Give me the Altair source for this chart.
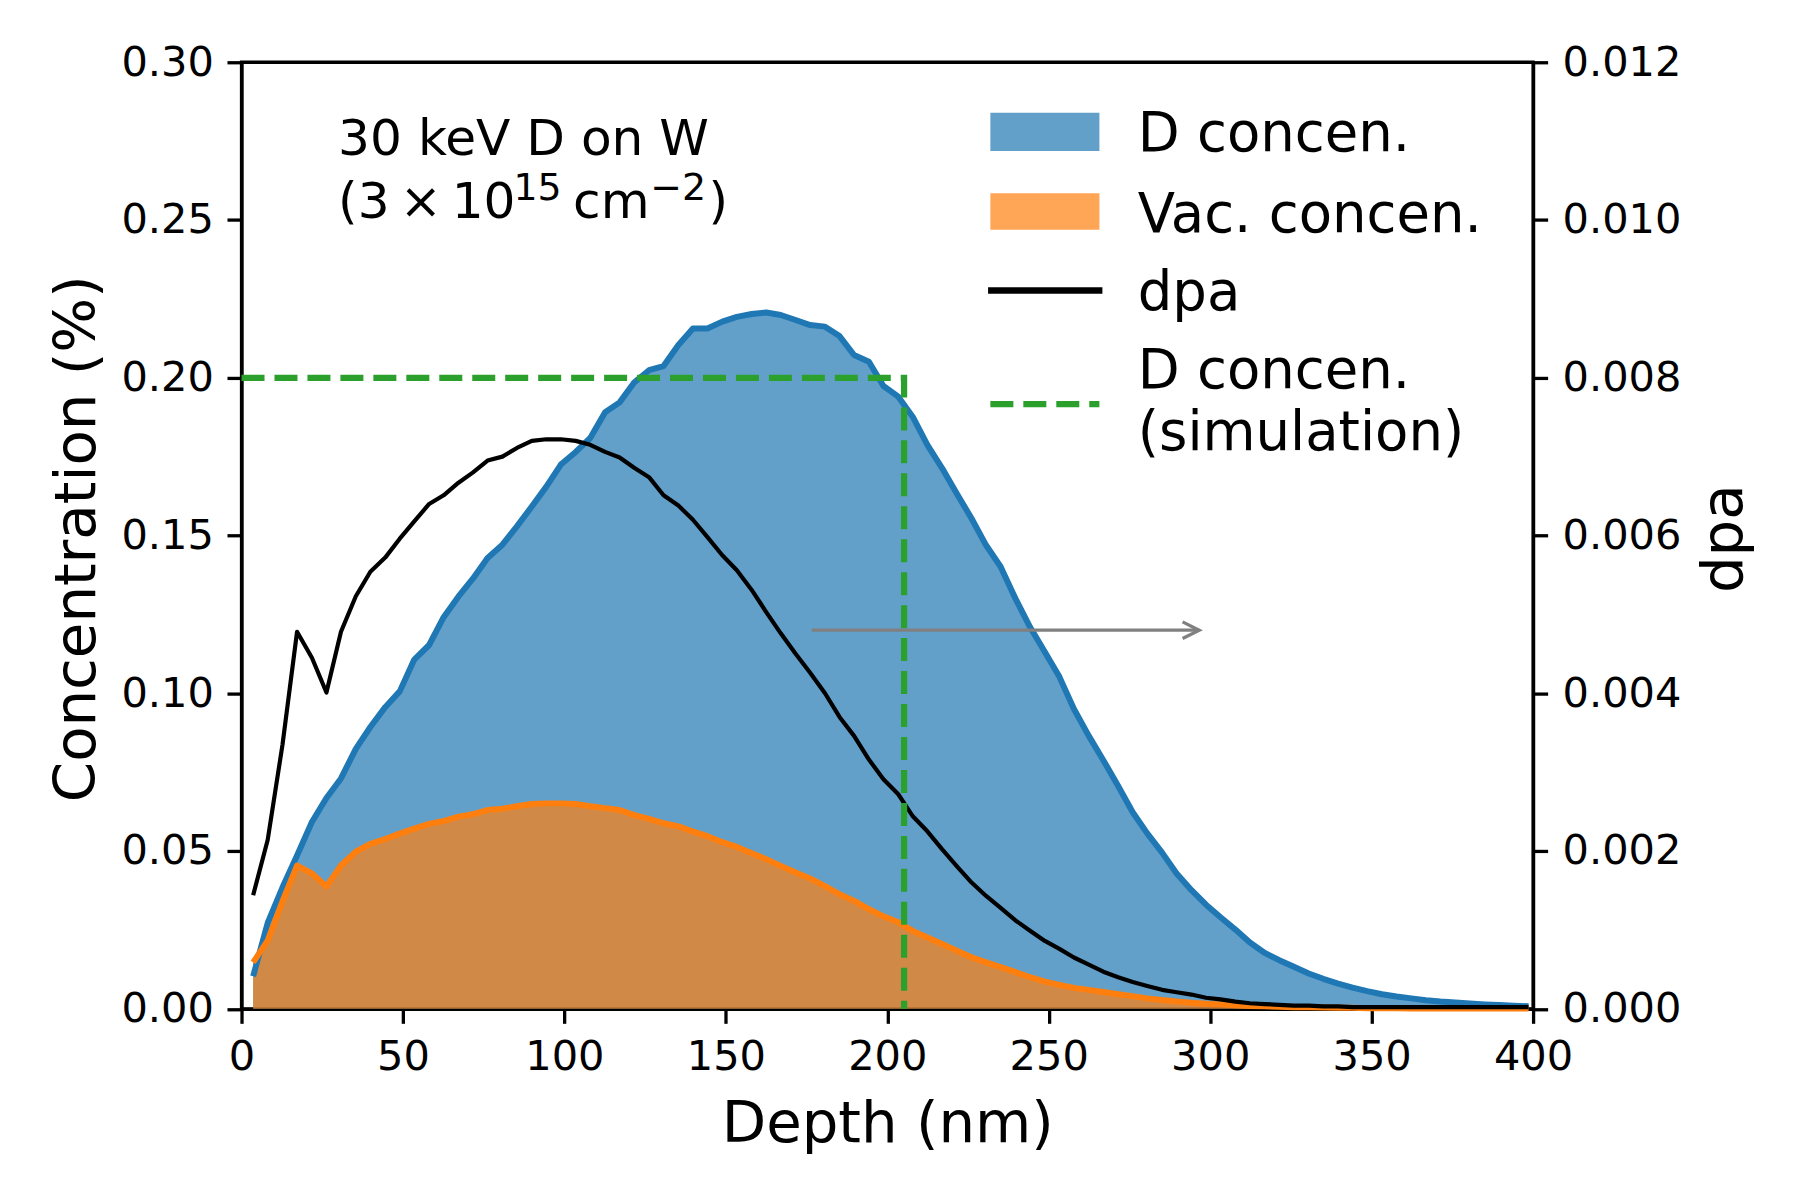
import altair as alt
import pandas as pd

# ---------------- data ----------------
depth = [3.6, 8.1, 12.7, 17.2, 21.8, 26.3, 30.8, 35.4, 39.9, 44.5,
         49.0, 53.5, 58.1, 62.6, 67.2, 71.7, 76.2, 80.8, 85.3, 89.9,
         94.4, 98.9, 103.5, 108.0, 112.6, 117.1, 121.6, 126.2, 130.7, 135.3,
         139.8, 144.3, 148.9, 153.4, 158.0, 162.5, 167.0, 171.6, 176.1, 180.7,
         185.2, 189.7, 194.3, 198.8, 203.4, 207.9, 212.4, 217.0, 221.5, 226.1,
         230.6, 235.1, 239.7, 244.2, 248.8, 253.3, 257.8, 262.4, 266.9, 271.5,
         276.0, 280.5, 285.1, 289.6, 294.2, 298.7, 303.2, 307.8, 312.3, 316.9,
         321.4, 325.9, 330.5, 335.0, 339.6, 344.1, 348.6, 353.2, 357.7, 362.3,
         366.8, 371.3, 375.9, 380.4, 385.0, 389.5, 394.0, 398.6]

d_conc = [0.0103, 0.0272, 0.0385, 0.0486, 0.0592, 0.0668, 0.0730, 0.0824, 0.0893, 0.0956,
          0.1006, 0.1107, 0.1153, 0.1241, 0.1307, 0.1364, 0.1429, 0.1471, 0.1529, 0.1592,
          0.1655, 0.1725, 0.1765, 0.1809, 0.1891, 0.1922, 0.1985, 0.2024, 0.2037, 0.2104,
          0.2156, 0.2156, 0.2178, 0.2193, 0.2202, 0.2207, 0.2199, 0.2183, 0.2167, 0.2162,
          0.2132, 0.2072, 0.2051, 0.1974, 0.1940, 0.1876, 0.1787, 0.1713, 0.1633, 0.1554,
          0.1469, 0.1401, 0.1300, 0.1210, 0.1131, 0.1052, 0.0950, 0.0865, 0.0788, 0.0706,
          0.0623, 0.0556, 0.0495, 0.0429, 0.0376, 0.0330, 0.0290, 0.0251, 0.0210, 0.0177,
          0.0154, 0.0133, 0.0112, 0.0095, 0.0080, 0.0067, 0.0056, 0.0046, 0.0039, 0.0033,
          0.0027, 0.0023, 0.0020, 0.0017, 0.0014, 0.0012, 0.0010, 0.0008]

vac_conc = [0.0147, 0.0216, 0.0341, 0.0454, 0.0429, 0.0388, 0.0454, 0.0498, 0.0523, 0.0538,
            0.0555, 0.0571, 0.0586, 0.0595, 0.0609, 0.0617, 0.0630, 0.0634, 0.0642, 0.0649,
            0.0651, 0.0651, 0.0649, 0.0642, 0.0636, 0.0630, 0.0614, 0.0602, 0.0588, 0.0578,
            0.0562, 0.0547, 0.0528, 0.0513, 0.0493, 0.0474, 0.0453, 0.0432, 0.0413, 0.0389,
            0.0363, 0.0342, 0.0316, 0.0293, 0.0274, 0.0247, 0.0226, 0.0205, 0.0184, 0.0163,
            0.0147, 0.0132, 0.0116, 0.0100, 0.0086, 0.0076, 0.0066, 0.0060, 0.0053, 0.0046,
            0.0040, 0.0033, 0.0028, 0.0023, 0.0019, 0.0016, 0.0014, 0.0011, 0.0009, 0.0008,
            0.0006, 0.0005, 0.0005, 0.0004, 0.0003, 0.0003, 0.0002, 0.0002, 0.0002, 0.0001,
            0.0001, 0.0001, 0.0001, 0.0001, 0.0001, 0.0001, 0.0001, 0.0001]

dpa = [0.00144, 0.00214, 0.00335, 0.00478, 0.00445, 0.00401, 0.00478, 0.00523, 0.00554, 0.00572,
       0.00596, 0.00618, 0.00640, 0.00651, 0.00667, 0.00680, 0.00695, 0.00700, 0.00711, 0.00720,
       0.00722, 0.00722, 0.00720, 0.00715, 0.00706, 0.00699, 0.00686, 0.00674, 0.00651, 0.00638,
       0.00620, 0.00598, 0.00575, 0.00556, 0.00531, 0.00503, 0.00476, 0.00450, 0.00426, 0.00400,
       0.00370, 0.00346, 0.00316, 0.00291, 0.00272, 0.00244, 0.00225, 0.00202, 0.00181, 0.00160,
       0.00143, 0.00128, 0.00112, 0.00099, 0.00086, 0.00076, 0.00065, 0.00056, 0.00047, 0.00040,
       0.00034, 0.00029, 0.00024, 0.00021, 0.00018, 0.00014, 0.00012, 0.00009, 0.00007, 0.00006,
       0.00005, 0.00004, 0.00004, 0.00003, 0.00003, 0.00002, 0.00002, 0.00002, 0.00002, 0.00002,
       0.00002, 0.00002, 0.00002, 0.00002, 0.00002, 0.00002, 0.00002, 0.00002]

sim_x = [0.0, 205.2, 205.2]
sim_y = [0.20, 0.20, 0.0]
arrow_x = [176.6, 296.6]
arrow_y = [0.12, 0.12]

x_ticks = [0, 50, 100, 150, 200, 250, 300, 350, 400]
y_ticks = [0.0, 0.05, 0.10, 0.15, 0.20, 0.25, 0.30]
dpa_ticks = [0.0, 0.002, 0.004, 0.006, 0.008, 0.010, 0.012]

legend_labels = ["D concen.", "Vac. concen.", "dpa", "D concen.", "(simulation)"]
note_line1 = "30 keV D on W"
note_parts = ["(3\u2009\u00d7\u200910", "15", "cm", "\u22122", ")"]

# ---------------- tables ----------------
df = pd.DataFrame({"depth": depth, "d": d_conc, "vac": vac_conc, "dpa": dpa})
df_sim = pd.DataFrame({"depth": sim_x, "y": sim_y, "k": list(range(len(sim_x)))})
df_arrow = pd.DataFrame({"depth": arrow_x, "y": arrow_y})
df_head = df_arrow.iloc[[1]]

FONT = "DejaVu Sans"
W, H = 1297, 950.5
BLUE, ORANGE, GREEN = "#1f77b4", "#ff7f0e", "#2ca02c"

xscale = alt.Scale(domain=[0, 400], nice=False, zero=False)
yscale = alt.Scale(domain=[0, 0.30], nice=False, zero=False)
dscale = alt.Scale(domain=[0, 0.012], nice=False, zero=False)

xaxis = alt.Axis(values=x_ticks, format="d", title="Depth (nm)", labelFlush=False,
                 labelOverlap=False, labelBaseline="alphabetic", labelPadding=46.8,
                 titleX=W / 2, titleY=133, titleBaseline="alphabetic",
                 titleAlign="center", titleAngle=0)
yaxis = alt.Axis(values=y_ticks, format=".2f", title="Concentration (%)", orient="left",
                 labelPadding=13.7, labelOverlap=False, titleAngle=270, titleX=-147.7,
                 titleY=478, titleBaseline="alphabetic", titleAlign="center")
daxis = alt.Axis(values=dpa_ticks, format=".3f", title="dpa", orient="right",
                 labelPadding=14.5, labelOverlap=False, titleAngle=270, titleX=209.5,
                 titleY=478, titleBaseline="alphabetic", titleAlign="center")

X = alt.X("depth:Q", scale=xscale, axis=xaxis)

base = alt.Chart(df)
blue_fill = base.mark_area(fill=BLUE, fillOpacity=0.7).encode(
    x=X, y=alt.Y("d:Q", scale=yscale, axis=yaxis))
orange_fill = base.mark_area(fill=ORANGE, fillOpacity=0.7).encode(
    x=X, y=alt.Y("vac:Q", scale=yscale, axis=yaxis))
blue_line = base.mark_line(color=BLUE, strokeWidth=6, strokeJoin="round").encode(
    x=X, y=alt.Y("d:Q", scale=yscale, axis=yaxis))
orange_line = base.mark_line(color=ORANGE, strokeWidth=6, strokeJoin="round").encode(
    x=X, y=alt.Y("vac:Q", scale=yscale, axis=yaxis))
conc_layer = alt.layer(blue_fill, orange_fill, blue_line, orange_line)

dpa_line = base.mark_line(color="black", strokeWidth=4.2, strokeJoin="round").encode(
    x=X, y=alt.Y("dpa:Q", scale=dscale, axis=daxis))

sim_line = alt.Chart(df_sim).mark_line(color=GREEN, strokeWidth=6.25,
                                       strokeDash=[23.1, 10], strokeCap="butt").encode(
    x=X, y=alt.Y("y:Q", scale=yscale, axis=None), order="k:O")
arrow_line = alt.Chart(df_arrow).mark_line(color="gray", strokeWidth=3.3).encode(
    x=X, y=alt.Y("y:Q", scale=yscale, axis=None))
arrow_head = alt.Chart(df_head).mark_point(
    shape="M -2 -1 L 0 0 L -2 1", size=279, filled=False, stroke="gray",
    strokeWidth=3.3, opacity=1).encode(
    x=X, y=alt.Y("y:Q", scale=yscale, axis=None))


def text_mark(label, x, y, size):
    return alt.Chart(pd.DataFrame({"t": [label]})).mark_text(
        align="left", baseline="alphabetic", font=FONT, fontSize=size,
        color="black").encode(x=alt.value(x), y=alt.value(y), text="t:N")


def patch(color, y0, y1):
    return alt.Chart(pd.DataFrame({"k": [0]})).mark_rect(
        fill=color, fillOpacity=0.7).encode(
        x=alt.value(752), x2=alt.value(861.5), y=alt.value(y0), y2=alt.value(y1))


leg_black = alt.Chart(pd.DataFrame({"k": [0]})).mark_rule(
    color="black", strokeWidth=6.7, strokeCap="butt").encode(
    x=alt.value(749.7), x2=alt.value(864.5), y=alt.value(229.2))
leg_green = alt.Chart(pd.DataFrame({"k": [0]})).mark_rule(
    color=GREEN, strokeWidth=6.25, strokeDash=[23.1, 10], strokeCap="butt").encode(
    x=alt.value(752), x2=alt.value(861.5), y=alt.value(343.3))

LX = 900
LS = 54.7
NS = 50.4
SS = 38
B2 = 156.6
overlay = alt.layer(
    sim_line, arrow_line, arrow_head,
    text_mark(note_line1, 97, 93, NS),
    text_mark(note_parts[0], 97, B2, NS),
    text_mark(note_parts[1], 273, B2 - 18, SS),
    text_mark(note_parts[2], 333, B2, NS),
    text_mark(note_parts[3], 410.5, B2 - 18, SS),
    text_mark(note_parts[4], 469, B2, NS),
    patch(BLUE, 50.6, 89.0),
    patch(ORANGE, 131.5, 168.3),
    leg_black, leg_green,
    text_mark(legend_labels[0], LX, 89.0, LS),
    text_mark(legend_labels[1], LX, 170.0, LS),
    text_mark(legend_labels[2], LX, 248.6, LS),
    text_mark(legend_labels[3], LX, 327.2, LS),
    text_mark(legend_labels[4], LX, 389.1, LS),
)

chart = alt.layer(conc_layer, dpa_line, overlay).resolve_scale(
    y="independent"
).properties(
    width=W, height=H,
    autosize=alt.AutoSizeParams(type="none"),
    padding={"left": 234.5, "top": 52, "right": 260, "bottom": 180},
    background="white",
).configure_view(
    stroke="black", strokeWidth=3.3
).configure_axis(
    grid=False, domainColor="black", domainWidth=3.3, tickColor="black",
    tickWidth=3.3, tickSize=14.6, labelFont=FONT, labelFontSize=41.7,
    labelColor="black", titleFont=FONT, titleFontSize=58, titleFontWeight="normal",
    titleColor="black", zindex=1,
)

chart.save("out.html", embed_options={"renderer": "svg", "actions": False})
